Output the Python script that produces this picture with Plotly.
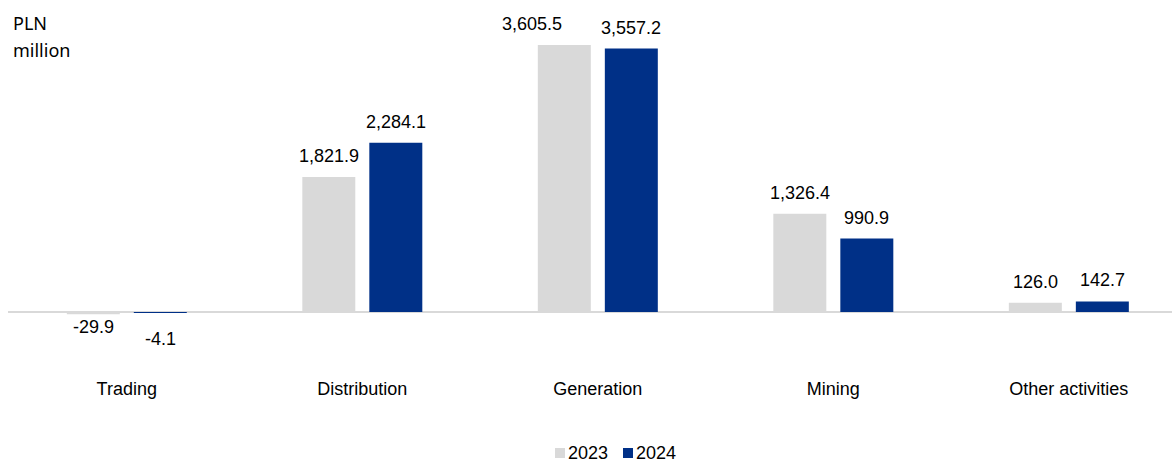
import plotly.graph_objects as go

# Segment results, PLN million
categories = ["Trading", "Distribution", "Generation", "Mining", "Other activities"]
values_2023 = [-29.9, 1821.9, 3605.5, 1326.4, 126.0]
values_2024 = [-4.1, 2284.1, 3557.2, 990.9, 142.7]
series_names = ["2023", "2024"]

COLOR_2023 = "#d9d9d9"
COLOR_2024 = "#003087"
TEXT = "#000000"
NUM_FONT = "Liberation Sans, Arial, sans-serif"

W, H = 1172, 464
MARGIN = dict(l=8, r=0, t=20, b=88)
PLOT_W = W - MARGIN["l"] - MARGIN["r"]
PLOT_H = H - MARGIN["t"] - MARGIN["b"]


def px_to_paper(px, py):
    """Convert a canvas pixel position to paper coordinates."""
    return (px - MARGIN["l"]) / PLOT_W, (H - MARGIN["b"] - py) / PLOT_H


BAR_W = 0.225
OFFSETS = [-0.2548, 0.0297]
colors = [COLOR_2023, COLOR_2024]
series_vals = [values_2023, values_2024]

idx = list(range(len(categories)))

fig = go.Figure()
for name, vals, color, off in zip(series_names, series_vals, colors, OFFSETS):
    fig.add_trace(go.Bar(
        x=idx, y=vals, name=name, width=BAR_W, offset=off,
        marker=dict(color=color, line=dict(width=0)),
        hoverinfo="skip", showlegend=False,
    ))

# Value labels above (or below) each bar; labels of two near-equal tall bars
# would collide, so the left one is nudged sideways.
annotations = []
for s, (vals, off) in enumerate(zip(series_vals, OFFSETS)):
    for i, v in zip(idx, vals):
        if v >= 0:
            shift = 21
        else:
            shift = -13 if s == 0 else -27
        other = series_vals[1 - s][i]
        nudge = -32 if (s == 0 and v > 3000 and abs(v - other) < 100) else 0
        annotations.append(dict(
            x=i + off + BAR_W / 2, y=v, xref="x", yref="y",
            text=f"{v:,.1f}", showarrow=False,
            xanchor="center", yanchor="middle", yshift=shift, xshift=nudge,
            font=dict(family=NUM_FONT, size=18, color=TEXT),
        ))

# Unit caption in the top-left corner
for txt, py in [("PLN", 23), ("million", 50)]:
    x0, y0 = px_to_paper(11, py)
    annotations.append(dict(
        x=x0, y=y0, xref="paper", yref="paper", text=txt,
        showarrow=False, xanchor="left", yanchor="middle",
        font=dict(family="Noto Sans, sans-serif", size=18, color=TEXT),
    ))

# Compact legend below the categories: small square swatch + year
shapes = []
legend_starts = [555, 623]
LEG_Y = 453
for name, color, sx in zip(series_names, colors, legend_starts):
    xa, ya = px_to_paper(sx, LEG_Y + 5)
    xb, yb = px_to_paper(sx + 10, LEG_Y - 5)
    shapes.append(dict(type="rect", xref="paper", yref="paper",
                       x0=xa, x1=xb, y0=ya, y1=yb,
                       fillcolor=color, line=dict(width=0)))
    tx, ty = px_to_paper(sx + 12, LEG_Y)
    annotations.append(dict(
        x=tx, y=ty, xref="paper", yref="paper", text=name,
        showarrow=False, xanchor="left", yanchor="middle", borderpad=0,
        font=dict(family=NUM_FONT, size=18, color=TEXT),
    ))

fig.update_layout(
    width=W, height=H,
    margin=dict(**MARGIN, autoexpand=False),
    paper_bgcolor="white", plot_bgcolor="white",
    barmode="overlay",
    showlegend=False,
    xaxis=dict(
        range=[-0.5045, 4.438], tickvals=idx, ticktext=categories,
        showgrid=False, showline=False, zeroline=False, ticks="",
        tickfont=dict(family=NUM_FONT, size=18, color=TEXT),
        fixedrange=True,
    ),
    yaxis=dict(
        range=[-864.3, 3943.3], showticklabels=False, showgrid=False,
        showline=False, ticks="", zeroline=True, layer="above traces",
        zerolinecolor="#d9d9d9", zerolinewidth=2, fixedrange=True,
    ),
    annotations=annotations,
    shapes=shapes,
)

fig.write_html("out.html")
